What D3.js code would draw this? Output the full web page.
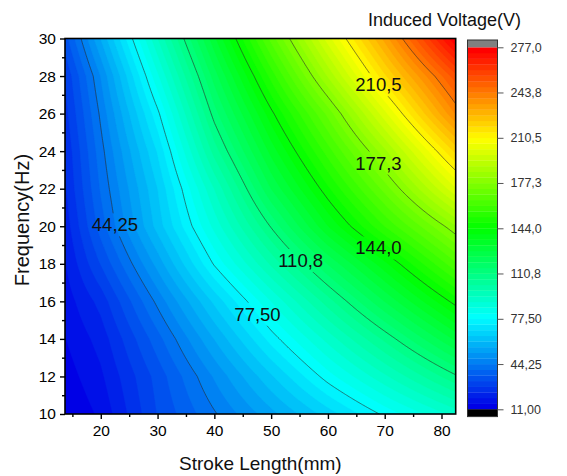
<!DOCTYPE html>
<html><head><meta charset="utf-8">
<script src="https://cdn.jsdelivr.net/npm/d3@7"></script>
<style>
html,body{margin:0;padding:0;background:#fff;}
svg{display:block;font-family:"Liberation Sans",Arial,Helvetica,sans-serif;}
</style></head><body>
<svg id="chart" width="567" height="476"></svg>
<script>
// Induced voltage (V) sampled on a stroke length x frequency grid
const strokeLength = [13.7, 20, 30, 40, 50, 60, 70, 82.5];      // mm
const frequency = [10, 12, 14, 16, 18, 20, 22, 24, 26, 28, 30];  // Hz
// one row per frequency (10 Hz first), one value per stroke length
const v10 = [11, 16, 32.0, 43.7, 55.3, 67.0, 78.6, 91.5];
const v12 = [13, 18.5, 33.4, 48.9, 64.4, 79.7, 93.2, 110];
const v14 = [15, 21, 38.4, 56.8, 75.1, 91.5, 107.6, 128.3];
const v16 = [17, 25, 45.5, 66.0, 85.8, 104.6, 123.3, 146];
const v18 = [19, 32, 54.1, 78.1, 99.0, 119.3, 138.6, 164];
const v20 = [21, 38, 62.6, 87.1, 111.3, 135.6, 156.6, 181];
const v22 = [23, 40.6, 65.0, 94.2, 123.3, 147.3, 170.7, 201.7];
const v24 = [24, 42.6, 69.6, 104.2, 133.0, 158.6, 184.4, 219.9];
const v26 = [26, 45.2, 76.3, 112.9, 142.6, 170.3, 200.8, 240];
const v28 = [28, 48.6, 84.9, 121.0, 153.9, 186.1, 217.9, 254.7];
const v30 = [34, 56.9, 93.9, 130.5, 166.3, 200.2, 232.8, 277];
const voltage = [v10, v12, v14, v16, v18, v20, v22, v24, v26, v28, v30];

// contour levels (colour scale ticks)
const levelLabels = ["11,00", "44,25", "77,50", "110,8", "144,0", "177,3", "210,5", "243,8", "277,0"];
const levelValues = levelLabels.map(s => +s.replace(",", "."));
// stroke length at which each labelled line carries its label
const labelledLevels = ["44,25", "77,50", "110,8", "144,0", "177,3", "210,5"];
const labelStroke = [22.5, 47.6, 55.2, 68.9, 68.9, 68.9];

const xTicks = [20, 30, 40, 50, 60, 70, 80];
const xMinor = [15, 25, 35, 45, 55, 65, 75];
const yTicks = [10, 12, 14, 16, 18, 20, 22, 24, 26, 28, 30];
const yMinor = [11, 13, 15, 17, 19, 21, 23, 25, 27, 29];

const nBands = 64;
const vMin = 11, vMax = 277;

const svg = d3.select("#chart");
const W = 567, H = 476;
const plot = {left: 65, right: 455.7, top: 38.5, bottom: 414};

const xS = d3.scaleLinear().domain([13.7, 82.5]).range([plot.left, plot.right]);
const yS = d3.scaleLinear().domain([10, 30]).range([plot.bottom, plot.top]);

const colorOf = d3.scaleLinear()
  .domain([vMin, vMin + (vMax - vMin) * 0.25, vMin + (vMax - vMin) * 0.5, vMin + (vMax - vMin) * 0.75, vMax])
  .range(["#0000e6", "#00ffff", "#00ff00", "#ffff00", "#ff0000"])
  .interpolate(d3.interpolateRgb);

const step = (vMax - vMin) / nBands;
const bandLow = d3.range(nBands).map(i => vMin + i * step);
const bandColor = d3.range(nBands).map(i => colorOf(vMin + (vMax - vMin) * i / (nBands - 1)));

// bilinear interpolation on the measured grid
function voltageAt(x, y) {
  const xs = strokeLength, ys = frequency;
  let i = Math.max(0, Math.min(xs.length - 2, d3.bisectRight(xs, x) - 1));
  let j = Math.max(0, Math.min(ys.length - 2, d3.bisectRight(ys, y) - 1));
  const tx = (x - xs[i]) / (xs[i + 1] - xs[i]);
  const ty = (y - ys[j]) / (ys[j + 1] - ys[j]);
  const a = voltage[j][i], b = voltage[j][i + 1], c = voltage[j + 1][i], d = voltage[j + 1][i + 1];
  return (a * (1 - tx) + b * tx) * (1 - ty) + (c * (1 - tx) + d * tx) * ty;
}

// fine sampling grid for the contour generator (row 0 = highest frequency)
const nx = 320, ny = 200;
const x0 = xS.domain()[0], x1 = xS.domain()[1];
const y0 = yS.domain()[0], y1 = yS.domain()[1];
const grid = new Float64Array(nx * ny);
for (let r = 0; r < ny; r++) {
  const y = y1 - r * (y1 - y0) / (ny - 1);
  for (let c = 0; c < nx; c++) {
    const x = x0 + c * (x1 - x0) / (nx - 1);
    grid[r * nx + c] = voltageAt(x, y);
  }
}
const gx = c => x0 + (c - 0.5) * (x1 - x0) / (nx - 1);
const gy = r => y1 - (r - 0.5) * (y1 - y0) / (ny - 1);
const proj = d3.geoTransform({point(c, r) { this.stream.point(xS(gx(c)), yS(gy(r))); }});
const path = d3.geoPath(proj);

const defs = svg.append("defs");
defs.append("clipPath").attr("id", "plotClip").append("rect")
  .attr("x", plot.left).attr("y", plot.top)
  .attr("width", plot.right - plot.left).attr("height", plot.bottom - plot.top);

// filled bands
const bands = d3.contours().size([nx, ny]).thresholds(bandLow)(grid);
svg.append("g").attr("clip-path", "url(#plotClip)")
  .selectAll("path").data(bands).join("path")
  .attr("d", path)
  .attr("fill", (d, i) => bandColor[i])
  .attr("stroke", (d, i) => bandColor[i])
  .attr("stroke-width", 0.4);

// contour line labels
const labelG = svg.append("g");
const labelPos = labelledLevels.map((lab, k) => {
  const level = +lab.replace(",", ".");
  const x = labelStroke[k];
  let lo = y0, hi = y1;
  for (let it = 0; it < 50; it++) {
    const mid = (lo + hi) / 2;
    if (voltageAt(x, mid) < level) lo = mid; else hi = mid;
  }
  return {text: lab, x: xS(x), y: yS((lo + hi) / 2)};
});
labelG.selectAll("text").data(labelPos).join("text")
  .attr("x", d => d.x).attr("y", d => d.y)
  .attr("text-anchor", "middle").attr("dominant-baseline", "central")
  .attr("font-size", 18.5).attr("fill", "#111")
  .text(d => d.text);

// mask that opens gaps in the lines behind the labels
const mask = defs.append("mask").attr("id", "labelGap").attr("maskUnits", "userSpaceOnUse")
  .attr("x", 0).attr("y", 0).attr("width", W).attr("height", H);
mask.append("rect").attr("x", 0).attr("y", 0).attr("width", W).attr("height", H).attr("fill", "#fff");
labelG.selectAll("text").each(function() {
  const b = this.getBBox();
  mask.append("rect").attr("x", b.x - 3).attr("y", b.y - 1)
    .attr("width", b.width + 6).attr("height", b.height + 2).attr("fill", "#000");
});

// contour lines, drawn as open polylines (grid border segments skipped)
const lineLevels = levelValues.slice(1, -1);
const lineContours = d3.contours().size([nx, ny]).thresholds(lineLevels)(grid);
const onBorder = p => p[0] <= 0 || p[0] >= nx || p[1] <= 0 || p[1] >= ny;
const lineG = svg.insert("g", "g:nth-of-type(2)")
  .attr("clip-path", "url(#plotClip)");
const lineInner = lineG.append("g").attr("mask", "url(#labelGap)");
lineContours.forEach(mp => {
  const p = d3.path();
  mp.coordinates.forEach(poly => poly.forEach(ring => {
    let open = false;
    for (let i = 0; i < ring.length - 1; i++) {
      const a = ring[i], b = ring[i + 1];
      if (onBorder(a) || onBorder(b)) { open = false; continue; }
      if (!open) { p.moveTo(xS(gx(a[0])), yS(gy(a[1]))); open = true; }
      p.lineTo(xS(gx(b[0])), yS(gy(b[1])));
    }
  }));
  lineInner.append("path").attr("d", p.toString())
    .attr("fill", "none").attr("stroke", "#2a2a2a").attr("stroke-opacity", 0.75)
    .attr("stroke-width", 0.8).attr("stroke-linejoin", "round");
});

// frame and axes
svg.append("rect")
  .attr("x", plot.left).attr("y", plot.top)
  .attr("width", plot.right - plot.left).attr("height", plot.bottom - plot.top)
  .attr("fill", "none").attr("stroke", "#000").attr("stroke-width", 1.6);

const xAxis = svg.append("g").attr("transform", `translate(0,${plot.bottom})`)
  .call(d3.axisBottom(xS).tickValues(xTicks).tickSize(5).tickPadding(6).tickFormat(d3.format("d")));
const xAxisMinor = svg.append("g").attr("transform", `translate(0,${plot.bottom})`)
  .call(d3.axisBottom(xS).tickValues(xMinor).tickSize(3).tickFormat(""));
const yAxis = svg.append("g").attr("transform", `translate(${plot.left},0)`)
  .call(d3.axisLeft(yS).tickValues(yTicks).tickSize(5).tickPadding(4).tickFormat(d3.format("d")));
const yAxisMinor = svg.append("g").attr("transform", `translate(${plot.left},0)`)
  .call(d3.axisLeft(yS).tickValues(yMinor).tickSize(3).tickFormat(""));
[xAxis, xAxisMinor, yAxis, yAxisMinor].forEach(g => {
  g.select(".domain").remove();
  g.selectAll("line").attr("stroke", "#000").attr("stroke-width", 1.4);
  g.selectAll("text").attr("font-family", "'Liberation Sans',Arial,sans-serif")
    .attr("font-size", 15.5).attr("fill", "#000");
});

svg.append("text")
  .attr("x", (plot.left + plot.right) / 2).attr("y", 470)
  .attr("text-anchor", "middle").attr("font-size", 19).attr("fill", "#111")
  .text("Stroke Length(mm)");
svg.append("text")
  .attr("transform", `translate(29,220) rotate(-90)`)
  .attr("text-anchor", "middle").attr("font-size", 20).attr("fill", "#111")
  .text("Frequency(Hz)");

// colour scale bar
const bar = {left: 467.5, right: 497.5};
const barY = d3.scaleLinear().domain([vMin, vMax]).range([409.3, 47.3]);
const barG = svg.append("g");
barG.selectAll("rect.band").data(bandLow).join("rect")
  .attr("class", "band")
  .attr("x", bar.left).attr("width", bar.right - bar.left)
  .attr("y", d => barY(d + step)).attr("height", d => barY(d) - barY(d + step) + 0.3)
  .attr("fill", (d, i) => bandColor[i]);
barG.append("rect").attr("x", bar.left).attr("width", bar.right - bar.left)
  .attr("y", barY(vMax) - 7.3).attr("height", 7.3).attr("fill", "#808080");
barG.append("rect").attr("x", bar.left).attr("width", bar.right - bar.left)
  .attr("y", barY(vMin)).attr("height", 7.3).attr("fill", "#000");
barG.append("rect").attr("x", bar.left).attr("y", barY(vMax) - 7.3)
  .attr("width", bar.right - bar.left).attr("height", barY(vMin) - barY(vMax) + 14.6)
  .attr("fill", "none").attr("stroke", "#333").attr("stroke-width", 1);
const barAxis = svg.append("g").attr("transform", `translate(${bar.right},0)`)
  .call(d3.axisRight(barY).tickValues(levelValues).tickSize(6).tickPadding(7)
    .tickFormat((d, i) => levelLabels[i]));
barAxis.select(".domain").remove();
barAxis.selectAll("line").attr("stroke", "#555").attr("stroke-width", 1);
barAxis.selectAll("text").attr("font-family", "'Liberation Sans',Arial,sans-serif")
  .attr("font-size", 12.5).attr("fill", "#333");

svg.append("text")
  .attr("x", 368).attr("y", 26)
  .attr("font-size", 18).attr("fill", "#111")
  .text("Induced Voltage(V)");
</script>
</body></html>
